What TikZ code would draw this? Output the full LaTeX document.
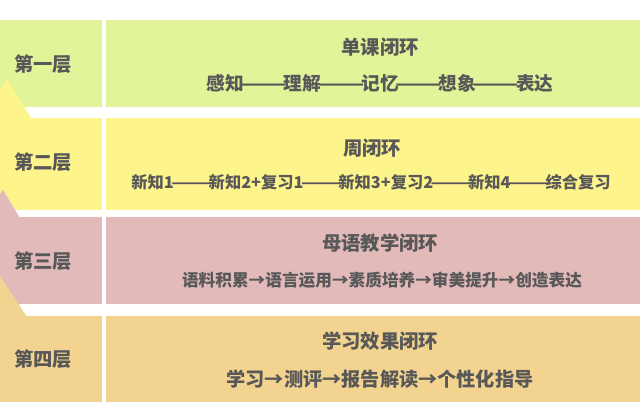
\documentclass[tikz,border=0pt]{standalone}
\usepackage{fontspec}
\usepackage{graphicx}
\setmainfont{Noto Sans CJK SC}
\newcommand{\ddash}{\kern-0.17em\scalebox{1.45}[1]{——}\kern-0.17em}
\begin{document}
\begin{tikzpicture}[x=0.75pt,y=-0.75pt,
  lbl/.style={font=\fontsize{14.5}{16}\selectfont\bfseries, text=txt, inner sep=0pt, anchor=center},
  ttl/.style={font=\fontsize{14.5}{16}\selectfont\bfseries, text=txt, inner sep=0pt, anchor=center},
  subA/.style={font=\fontsize{14}{16}\selectfont\bfseries, text=txt, inner sep=0pt, anchor=center},
  subB/.style={font=\fontsize{12.2}{14}\selectfont\bfseries, text=txt, inner sep=0pt, anchor=center},
  subC/.style={font=\fontsize{12.5}{14}\selectfont\bfseries, text=txt, inner sep=0pt, anchor=center},
  subD/.style={font=\fontsize{14.4}{16}\selectfont\bfseries, text=txt, inner sep=0pt, anchor=center}]
\definecolor{txt}{RGB}{88,88,88}
\definecolor{cA}{RGB}{225,244,154}
\definecolor{cB}{RGB}{254,244,140}
\definecolor{cC}{RGB}{227,186,186}
\definecolor{cD}{RGB}{242,211,143}
\useasboundingbox (0,0) rectangle (640,420);
\fill[white] (0,0) rectangle (640,420);
% boxes
\fill[cA] (0,20) rectangle (101.5,107);
\fill[cA] (106,20) rectangle (640,107);
\fill[cB] (0,118) rectangle (101.5,210);
\fill[cB] (106,118) rectangle (640,210);
\fill[cC] (0,217) rectangle (101.5,304);
\fill[cC] (106,217) rectangle (640,304);
\fill[cD] (0,316) rectangle (101.5,402);
\fill[cD] (106,316) rectangle (640,402);
% upward pointers
\fill[cB] (0,119) -- (0,89) -- (7,80) -- (32,119) -- cycle;
\fill[cC] (0,218) -- (0,194) -- (3,190) -- (20,218) -- cycle;
\fill[cD] (0,317) -- (0,276) -- (27,317) -- cycle;
% left labels
\node[lbl] (l1) at (43,64) {第一层};
\node[lbl] (l2) at (43,162) {第二层};
\node[lbl] (l3) at (43,261) {第三层};
\node[lbl] (l4) at (43,359) {第四层};
% titles and contents
\node[ttl] (t1) at (380,47) {单课闭环};
\node[subA] (s1) at (380,83) {感知\ddash 理解\ddash 记忆\ddash 想象\ddash 表达};
\node[ttl] (t2) at (372,148) {周闭环};
\node[subB] (s2) at (371,182) {新知1\ddash 新知2+复习1\ddash 新知3+复习2\ddash 新知4\ddash 综合复习};
\node[ttl] (t3) at (380,243) {母语教学闭环};
\node[subC] (s3) at (382,280) {语料积累→语言运用→素质培养→审美提升→创造表达};
\node[ttl] (t4) at (380,341) {学习效果闭环};
\node[subD] (s4) at (380,379) {学习→测评→报告解读→个性化指导};
\end{tikzpicture}
\end{document}
